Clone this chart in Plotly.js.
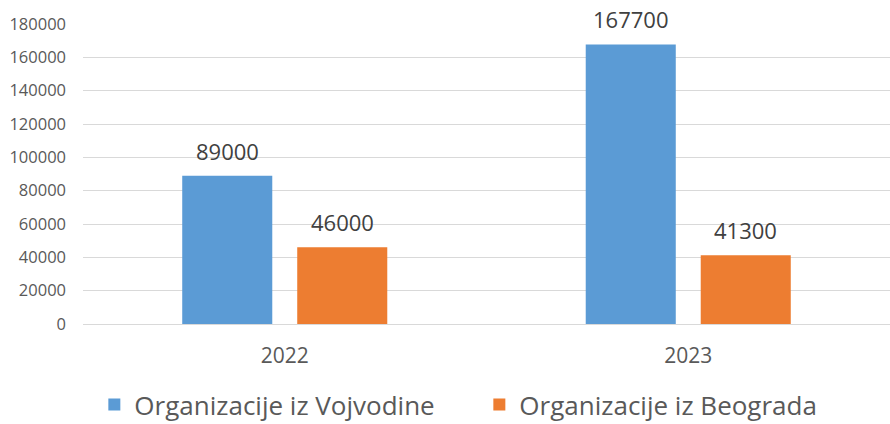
<!DOCTYPE html>
<html>
<head>
<meta charset="utf-8">
<script src="https://cdn.plot.ly/plotly-3.0.1.min.js"></script>
<style>
  html, body { margin: 0; padding: 0; background: #ffffff; }
  #chart { width: 890px; height: 424px; }
</style>
</head>
<body>
<div id="chart"></div>
<script>

/* ==========================================
   DATA
========================================== */

const years = ["2022", "2023"];

const vojvodina = [89000, 167700];

const beograd = [46000, 41300];

const seriesNames = ["Organizacije iz Vojvodine", "Organizacije iz Beograda"];

const seriesColors = ["#5B9BD5", "#ED7D31"];

const yTicks = [0, 20000, 40000, 60000, 80000, 100000, 120000, 140000, 160000, 180000];


/* ==========================================
   CHART
========================================== */

const fontFamily = "'Open Sans', 'Noto Sans', sans-serif";

const barGap = 0.43;

const barGroupGap = 0.217;

// half a slot of the group, in category units
const slotOffset = (1 - barGap) / 4;

function makeTrace(name, values, color){

    return {
        type: "bar",
        name: name,
        x: years,
        y: values,
        marker: { color: color },
        hoverinfo: "x+y"
    };

}

function makeLabels(values, side){

    return values.map((v, i) => ({
        x: i + side * slotOffset,
        y: v,
        xref: "x",
        yref: "y",
        text: String(v),
        showarrow: false,
        yanchor: "bottom",
        yshift: 8,
        font: { family: fontFamily, size: 22, color: "#404040" }
    }));

}

Plotly.newPlot(
    "chart",
    [
        makeTrace(seriesNames[0], vojvodina, seriesColors[0]),
        makeTrace(seriesNames[1], beograd, seriesColors[1])
    ],
    {
        width: 890,
        height: 424,
        margin: { l: 83, r: 0, t: 24, b: 100, autoexpand: false },
        paper_bgcolor: "#ffffff",
        plot_bgcolor: "#ffffff",
        font: { family: fontFamily, color: "#595959" },
        barmode: "group",
        bargap: barGap,
        bargroupgap: barGroupGap,
        showlegend: true,
        legend: {
            orientation: "h",
            x: 0.106,
            xanchor: "left",
            xref: "container",
            y: -0.19,
            yref: "paper",
            yanchor: "top",
            font: { family: fontFamily, size: 26, color: "#595959" },
            itemwidth: 30,
            entrywidth: 340,
            entrywidthmode: "pixels",
            traceorder: "normal"
        },
        annotations: makeLabels(vojvodina, -1).concat(makeLabels(beograd, 1)),
        xaxis: {
            type: "category",
            showgrid: false,
            showline: false,
            ticks: "",
            ticklabelstandoff: 17,
            tickfont: { family: fontFamily, size: 21, color: "#595959" }
        },
        yaxis: {
            range: [0, 180000],
            tickvals: yTicks,
            ticktext: yTicks.map(v => String(v)),
            showgrid: true,
            gridcolor: "#d9d9d9",
            gridwidth: 1,
            zeroline: true,
            zerolinecolor: "#d9d9d9",
            zerolinewidth: 1,
            showline: false,
            ticks: "",
            ticklabelstandoff: 16,
            tickfont: { family: fontFamily, size: 16.5, color: "#595959" }
        }
    },
    {
        displayModeBar: false,
        staticPlot: true
    }
);

</script>
</body>
</html>
